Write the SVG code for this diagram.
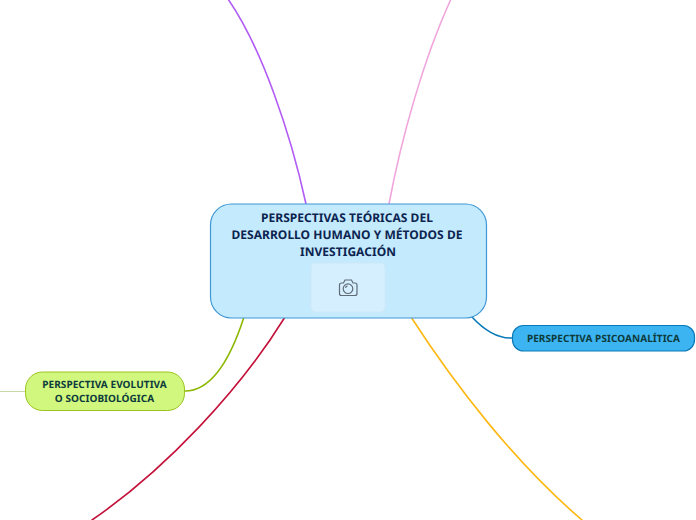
<svg xmlns="http://www.w3.org/2000/svg" width="696" height="520" viewBox="0 0 696 520">
<style>
text{font-family:"Noto Sans","Open Sans",sans-serif;font-weight:700;text-anchor:middle;text-rendering:geometricPrecision}
.c{fill:none;stroke-width:1.6;stroke-linecap:round}
.t{font-size:12px;fill:#0c2450;letter-spacing:.03px}
.s{font-size:10px;fill:#0d3b3b;letter-spacing:.07px}
</style>
<rect width="696" height="520" fill="#fff"/>
<g id="connectors">
<path class="c" stroke="#b25cf5" d="M228 -1C262 48 291 135 306 204"/>
<path class="c" stroke="#f0a5dc" stroke-width="1.800" d="M451 -1C423 60 401 140 389 204"/>
<path class="c" stroke="#0a7ab8" d="M472 317C484 330 497 339 513 338"/>
<path class="c" stroke="#fdb813" d="M411 317C455 385 515 463 582 520"/>
<path class="c" stroke="#c4123a" d="M285 317C240 390 165 470 92 520"/>
<path class="c" stroke="#8cb800" d="M244 317C233 351 215 391 185 391"/>
<path fill="none" stroke="#c8d8a8" stroke-width="1" d="M0 391.500H26"/>
</g>
<g id="central">
<rect x="210.500" y="204" width="276" height="114" rx="21" fill="#c4eafd" stroke="#3f98d5" stroke-width="1.200"/>
<text class="t" x="347" y="222">PERSPECTIVAS TEÓRICAS DEL</text>
<text class="t" x="347" y="239">DESARROLLO HUMANO Y MÉTODOS DE</text>
<text class="t" x="348" y="255.500">INVESTIGACIÓN</text>
<rect x="311" y="263" width="74" height="49" rx="4" fill="#d5effe" stroke="#cfe8f8" stroke-width="1"/>
<g fill="none" stroke="#5f6b75" stroke-width="1.200">
<path d="M339.500 285a2 2 0 0 1 2-2h2l1.500-3h6.500l1.500 3h2a2 2 0 0 1 2 2v8.500a2 2 0 0 1-2 2h-13.500a2 2 0 0 1-2-2z"/>
<circle cx="348" cy="288.700" r="4.800"/>
<path d="M345.500 288a2.700 2.700 0 0 1 2-2.200"/>
</g>
</g>
<g id="psicoanalitica">
<rect x="512.500" y="325.500" width="182" height="25.500" rx="11" fill="#3cb4f2" stroke="#0a7ab8" stroke-width="1.200"/>
<text class="s" x="603.500" y="342">PERSPECTIVA PSICOANALÍTICA</text>
</g>
<g id="evolutiva">
<rect x="25.500" y="372" width="159" height="38.500" rx="17" fill="#d1f77e" stroke="#9cc41e" stroke-width="1"/>
<text class="s" x="104.500" y="388">PERSPECTIVA EVOLUTIVA</text>
<text class="s" x="104.500" y="402">O SOCIOBIOLÓGICA</text>
</g>
</svg>
